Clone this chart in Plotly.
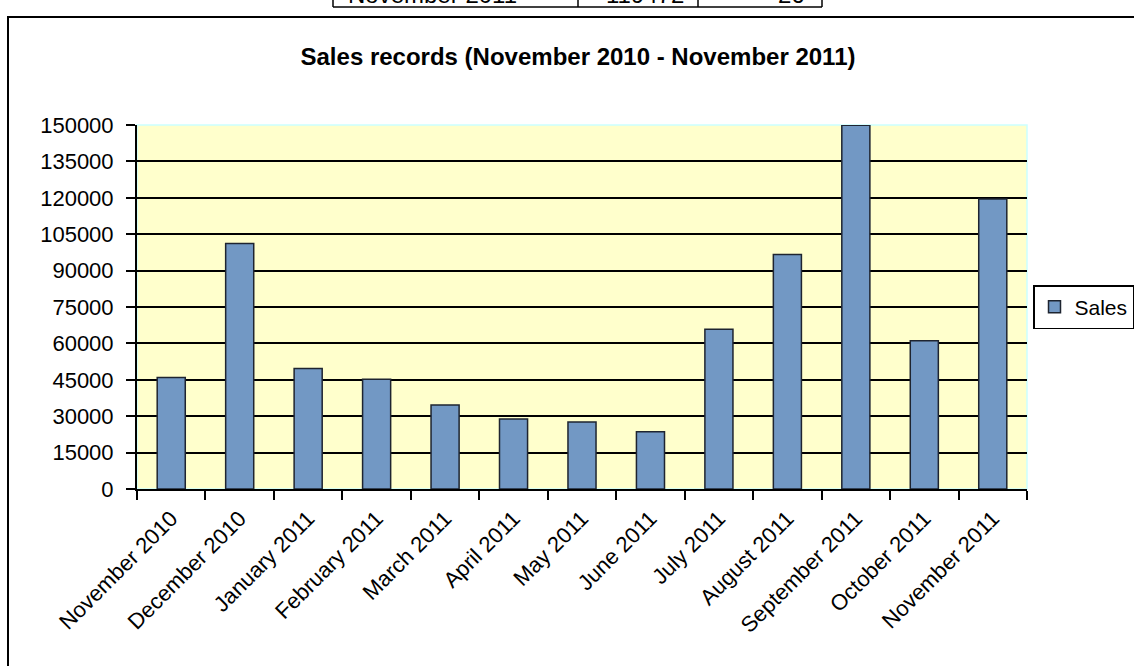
import plotly.graph_objects as go

# ---- data ----
months = ["November 2010", "December 2010", "January 2011", "February 2011",
          "March 2011", "April 2011", "May 2011", "June 2011", "July 2011",
          "August 2011", "September 2011", "October 2011", "November 2011"]
sales = [45900, 101200, 49700, 45200, 34600, 28800, 27600, 23600,
         65800, 96600, 149900, 61100, 119472]
y_ticks = list(range(0, 150001, 15000))
table_row = ["November 2011", "119472", "26"]

# ---- geometry helpers (page pixels -> paper coords) ----
W, H = 1134, 666
L, R, T, B = 137, 107, 125, 177
PW, PH = W - L - R, H - T - B


def px(x):
    return (x - L) / PW


def py(y):
    return (H - B - y) / PH


FONT = "Liberation Sans, Arial, sans-serif"

fig = go.Figure()
fig.add_trace(go.Bar(
    x=months, y=sales, name="Sales", width=0.41,
    marker=dict(color="#7298C4", line=dict(color="#1E2430", width=1.5)),
))

shapes = [
    # light cyan plot border (top/right)
    dict(type="rect", xref="paper", yref="paper", x0=0, x1=1, y0=0, y1=1,
         line=dict(color="#CCFFFF", width=1.5), layer="below"),
    # chart outer border
    dict(type="rect", xref="paper", yref="paper", x0=px(8), x1=px(1160),
         y0=py(700), y1=py(17), line=dict(color="black", width=2)),
    # table fragment at top
    dict(type="line", xref="paper", yref="paper", x0=px(333), x1=px(822),
         y0=py(7), y1=py(7), line=dict(color="black", width=1.5)),
]
for xv in [333, 578, 698, 822]:
    shapes.append(dict(type="line", xref="paper", yref="paper", x0=px(xv), x1=px(xv),
                       y0=py(7), y1=py(-20), line=dict(color="black", width=1.5)))

annotations = [
    dict(text=table_row[0], xref="paper", yref="paper", x=px(346), y=py(-5),
         xanchor="left", yanchor="middle", showarrow=False,
         font=dict(family=FONT, size=24, color="black")),
    dict(text=table_row[1], xref="paper", yref="paper", x=px(686), y=py(-5),
         xanchor="right", yanchor="middle", showarrow=False,
         font=dict(family=FONT, size=24, color="black")),
    dict(text=table_row[2], xref="paper", yref="paper", x=px(807), y=py(-5),
         xanchor="right", yanchor="middle", showarrow=False,
         font=dict(family=FONT, size=24, color="black")),
]

fig.update_layout(
    width=W, height=H,
    margin=dict(l=L, r=R, t=T, b=B, autoexpand=False),
    paper_bgcolor="white",
    plot_bgcolor="#FFFFCC",
    title=dict(text="<b>Sales records (November 2010 - November 2011)</b>",
               x=px(578), xanchor="center", xref="paper",
               y=1 - 57 / H, yanchor="middle",
               font=dict(family=FONT, size=24, color="black")),
    font=dict(family=FONT, size=22, color="black"),
    showlegend=True,
    legend=dict(x=px(1033), xanchor="left", y=0.5, yanchor="middle",
                bordercolor="black", borderwidth=1.5, bgcolor="white",
                font=dict(family=FONT, size=21, color="black"),
                itemwidth=30),
    bargap=0.59,
    shapes=shapes,
    annotations=annotations,
    xaxis=dict(type="category", tickson="boundaries", ticks="outside",
               ticklen=9, tickwidth=2, tickcolor="black",
               showline=True, linecolor="black", linewidth=2,
               showgrid=False, tickangle=-45, ticklabelstandoff=6,
               tickfont=dict(family=FONT, size=22, color="black")),
    yaxis=dict(range=[0, 150000], tickvals=y_ticks,
               ticktext=[str(v) for v in y_ticks],
               ticks="outside", ticklen=9, tickwidth=2, tickcolor="black",
               showline=True, linecolor="black", linewidth=2,
               showgrid=True, gridcolor="black", gridwidth=1.5,
               zeroline=False, ticklabelstandoff=8,
               tickfont=dict(family=FONT, size=22, color="black")),
)

fig.write_html("out.html")
